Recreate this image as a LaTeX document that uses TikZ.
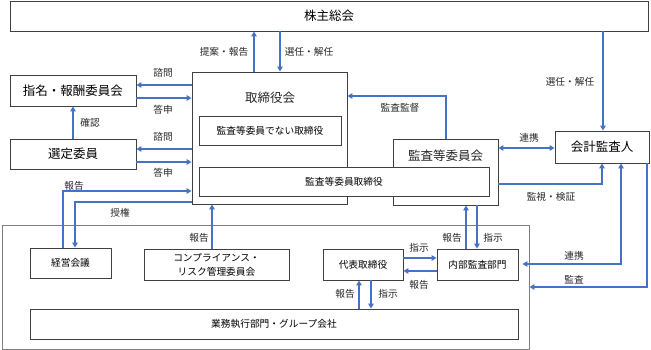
\documentclass[tikz,border=0pt]{standalone}
\usepackage{fontspec}
\setmainfont{Noto Sans CJK JP}
\usetikzlibrary{arrows.meta}
\definecolor{linkblue}{HTML}{4472C4}
\definecolor{boxgray}{HTML}{404040}
\newcommand{\bigsize}{\fontsize{12.5}{14}\selectfont}
\newcommand{\smallsize}{\fontsize{9.7}{14}\selectfont}
\tikzset{
  box/.style={draw=boxgray, line width=0.9pt, fill=white, inner sep=0pt, font=\bigsize},
  smallbox/.style={box, font=\smallsize},
  group/.style={draw=black!50, line width=0.9pt, inner sep=0pt},
  lbl/.style={inner sep=0pt, font=\smallsize, text=black!85},
  arr/.style={draw=linkblue, line width=1.6pt, -{Triangle[length=5pt,width=5.5pt]}},
  dblarr/.style={arr, {Triangle[length=5pt,width=5.5pt]}-{Triangle[length=5pt,width=5.5pt]}},
}
\begin{document}
\begin{tikzpicture}[x=1pt,y=-1pt]
  \useasboundingbox (0,0) rectangle (651,350);

  % executive side
  \node (exec) [group, minimum width=527pt, minimum height=124pt] at (265.5,287) {};
  \node (mgmt) [smallbox, minimum width=81pt, minimum height=30pt] at (70.5,263) {経営会議};
  \node (comp) [smallbox, align=center, minimum width=145pt, minimum height=31pt] at (216.5,264.5) {コンプライアンス・\\リスク管理委員会};
  \node (ceo) [smallbox, minimum width=80pt, minimum height=31pt] at (363,264.5) {代表取締役};
  \node (ia) [smallbox, minimum width=81pt, minimum height=31pt] at (477.5,264.5) {内部監査部門};
  \node (biz) [smallbox, minimum width=488pt, minimum height=30pt] at (274,324) {業務執行部門・グループ会社};

  % governance side
  \node (gm) [box, minimum width=638pt, minimum height=30pt] at (329,16) {株主総会};
  \node (board) [box, minimum width=155pt, minimum height=132pt] at (269.5,138) {};
  \node (boardtitle) [lbl, font=\bigsize] at (270,98) {取締役会};
  \node (nonaudit) [smallbox, minimum width=142pt, minimum height=29pt] at (270,130.5) {監査等委員でない取締役};
  \node (nomi) [box, minimum width=126pt, minimum height=31pt] at (73,90.5) {指名・報酬委員会};
  \node (sel) [box, minimum width=126pt, minimum height=30pt] at (73,154) {選定委員};
  \node (acm) [box, minimum width=105pt, minimum height=66pt] at (445.5,172) {};
  \node (acmtitle) [lbl, font=\bigsize] at (445.5,156) {監査等委員会};
  \node (acd) [smallbox, minimum width=290pt, minimum height=29pt] at (344,181.5) {監査等委員取締役};
  \node (auditor) [box, minimum width=94pt, minimum height=32pt] at (602,147) {会計監査人};

  % connectors
  \draw[arr] (board.north -| 254,0) -- (gm.south -| 254,0);
  \draw[arr] (gm.south -| 280,0) -- (board.north -| 280,0);
  \draw[arr] (board.west |- 0,85) -- (nomi.east |- 0,85);
  \draw[arr] (nomi.east |- 0,98) -- (board.west |- 0,98);
  \draw[arr] (sel.north) -- (nomi.south);
  \draw[arr] (board.west |- 0,149) -- (sel.east |- 0,149);
  \draw[arr] (sel.east |- 0,162) -- (board.west |- 0,162);
  \draw[arr] (mgmt.north -| 63,0) |- (board.west |- 0,191);
  \draw[arr] (board.west |- 0,202) -| (mgmt.north -| 75,0);
  \draw[arr] (comp.north -| 212,0) -- (board.south -| 212,0);
  \draw[arr] (acm.north -| 446,0) |- (board.east |- 0,96);
  \draw[arr] (gm.south -| 603,0) -- (auditor.north -| 603,0);
  \draw[dblarr] (acm.east |- 0,148) -- (auditor.west |- 0,148);
  \draw[arr] (acm.east |- 0,184) -| (auditor.south -| 602,0);
  \draw[dblarr, shorten >=4pt] (auditor.south -| 621,0) |- (ia.east |- 0,264);
  \draw[arr] (auditor.south -| 647,0) |- (exec.east |- 0,287);
  \draw[arr] (ia.north -| 466,0) -- (acm.south -| 466,0);
  \draw[arr] (acm.south -| 477,0) -- (ia.north -| 477,0);
  \draw[arr] (ceo.east |- 0,258) -- (ia.west |- 0,258);
  \draw[arr] (ia.west |- 0,271) -- (ceo.east |- 0,271);
  \draw[arr] (biz.north -| 359,0) -- (ceo.south -| 359,0);
  \draw[arr] (ceo.south -| 371,0) -- (biz.north -| 371,0);

  % labels
  \node (lprop) [lbl] at (224,52) {提案・報告};
  \node (lelect) [lbl] at (309,52) {選任・解任};
  \node (lasknomi) [lbl] at (163,73) {諮問};
  \node (lansnomi) [lbl] at (163,110) {答申};
  \node (lconfirm) [lbl] at (90,123) {確認};
  \node (lasksel) [lbl] at (163,137) {諮問};
  \node (lanssel) [lbl] at (163,173) {答申};
  \node (lrepmgmt) [lbl] at (74,186) {報告};
  \node (lauth) [lbl] at (120,213) {授権};
  \node (lrepcomp) [lbl] at (199,238) {報告};
  \node (lsuper) [lbl] at (400,108) {監査監督};
  \node (lelectaud) [lbl] at (570,82) {選任・解任};
  \node (lcoopacm) [lbl] at (529,138) {連携};
  \node (lmonitor) [lbl] at (551,197) {監視・検証};
  \node (lcoopia) [lbl] at (574,256) {連携};
  \node (laudit) [lbl] at (574,280) {監査};
  \node (lrepia) [lbl] at (452,238) {報告};
  \node (linstia) [lbl] at (493,238) {指示};
  \node (linstceo) [lbl] at (419,248) {指示};
  \node (lrepceo) [lbl] at (419,285) {報告};
  \node (lrepbiz) [lbl] at (345,294) {報告};
  \node (linstbiz) [lbl] at (388,294) {指示};
\end{tikzpicture}
\end{document}
